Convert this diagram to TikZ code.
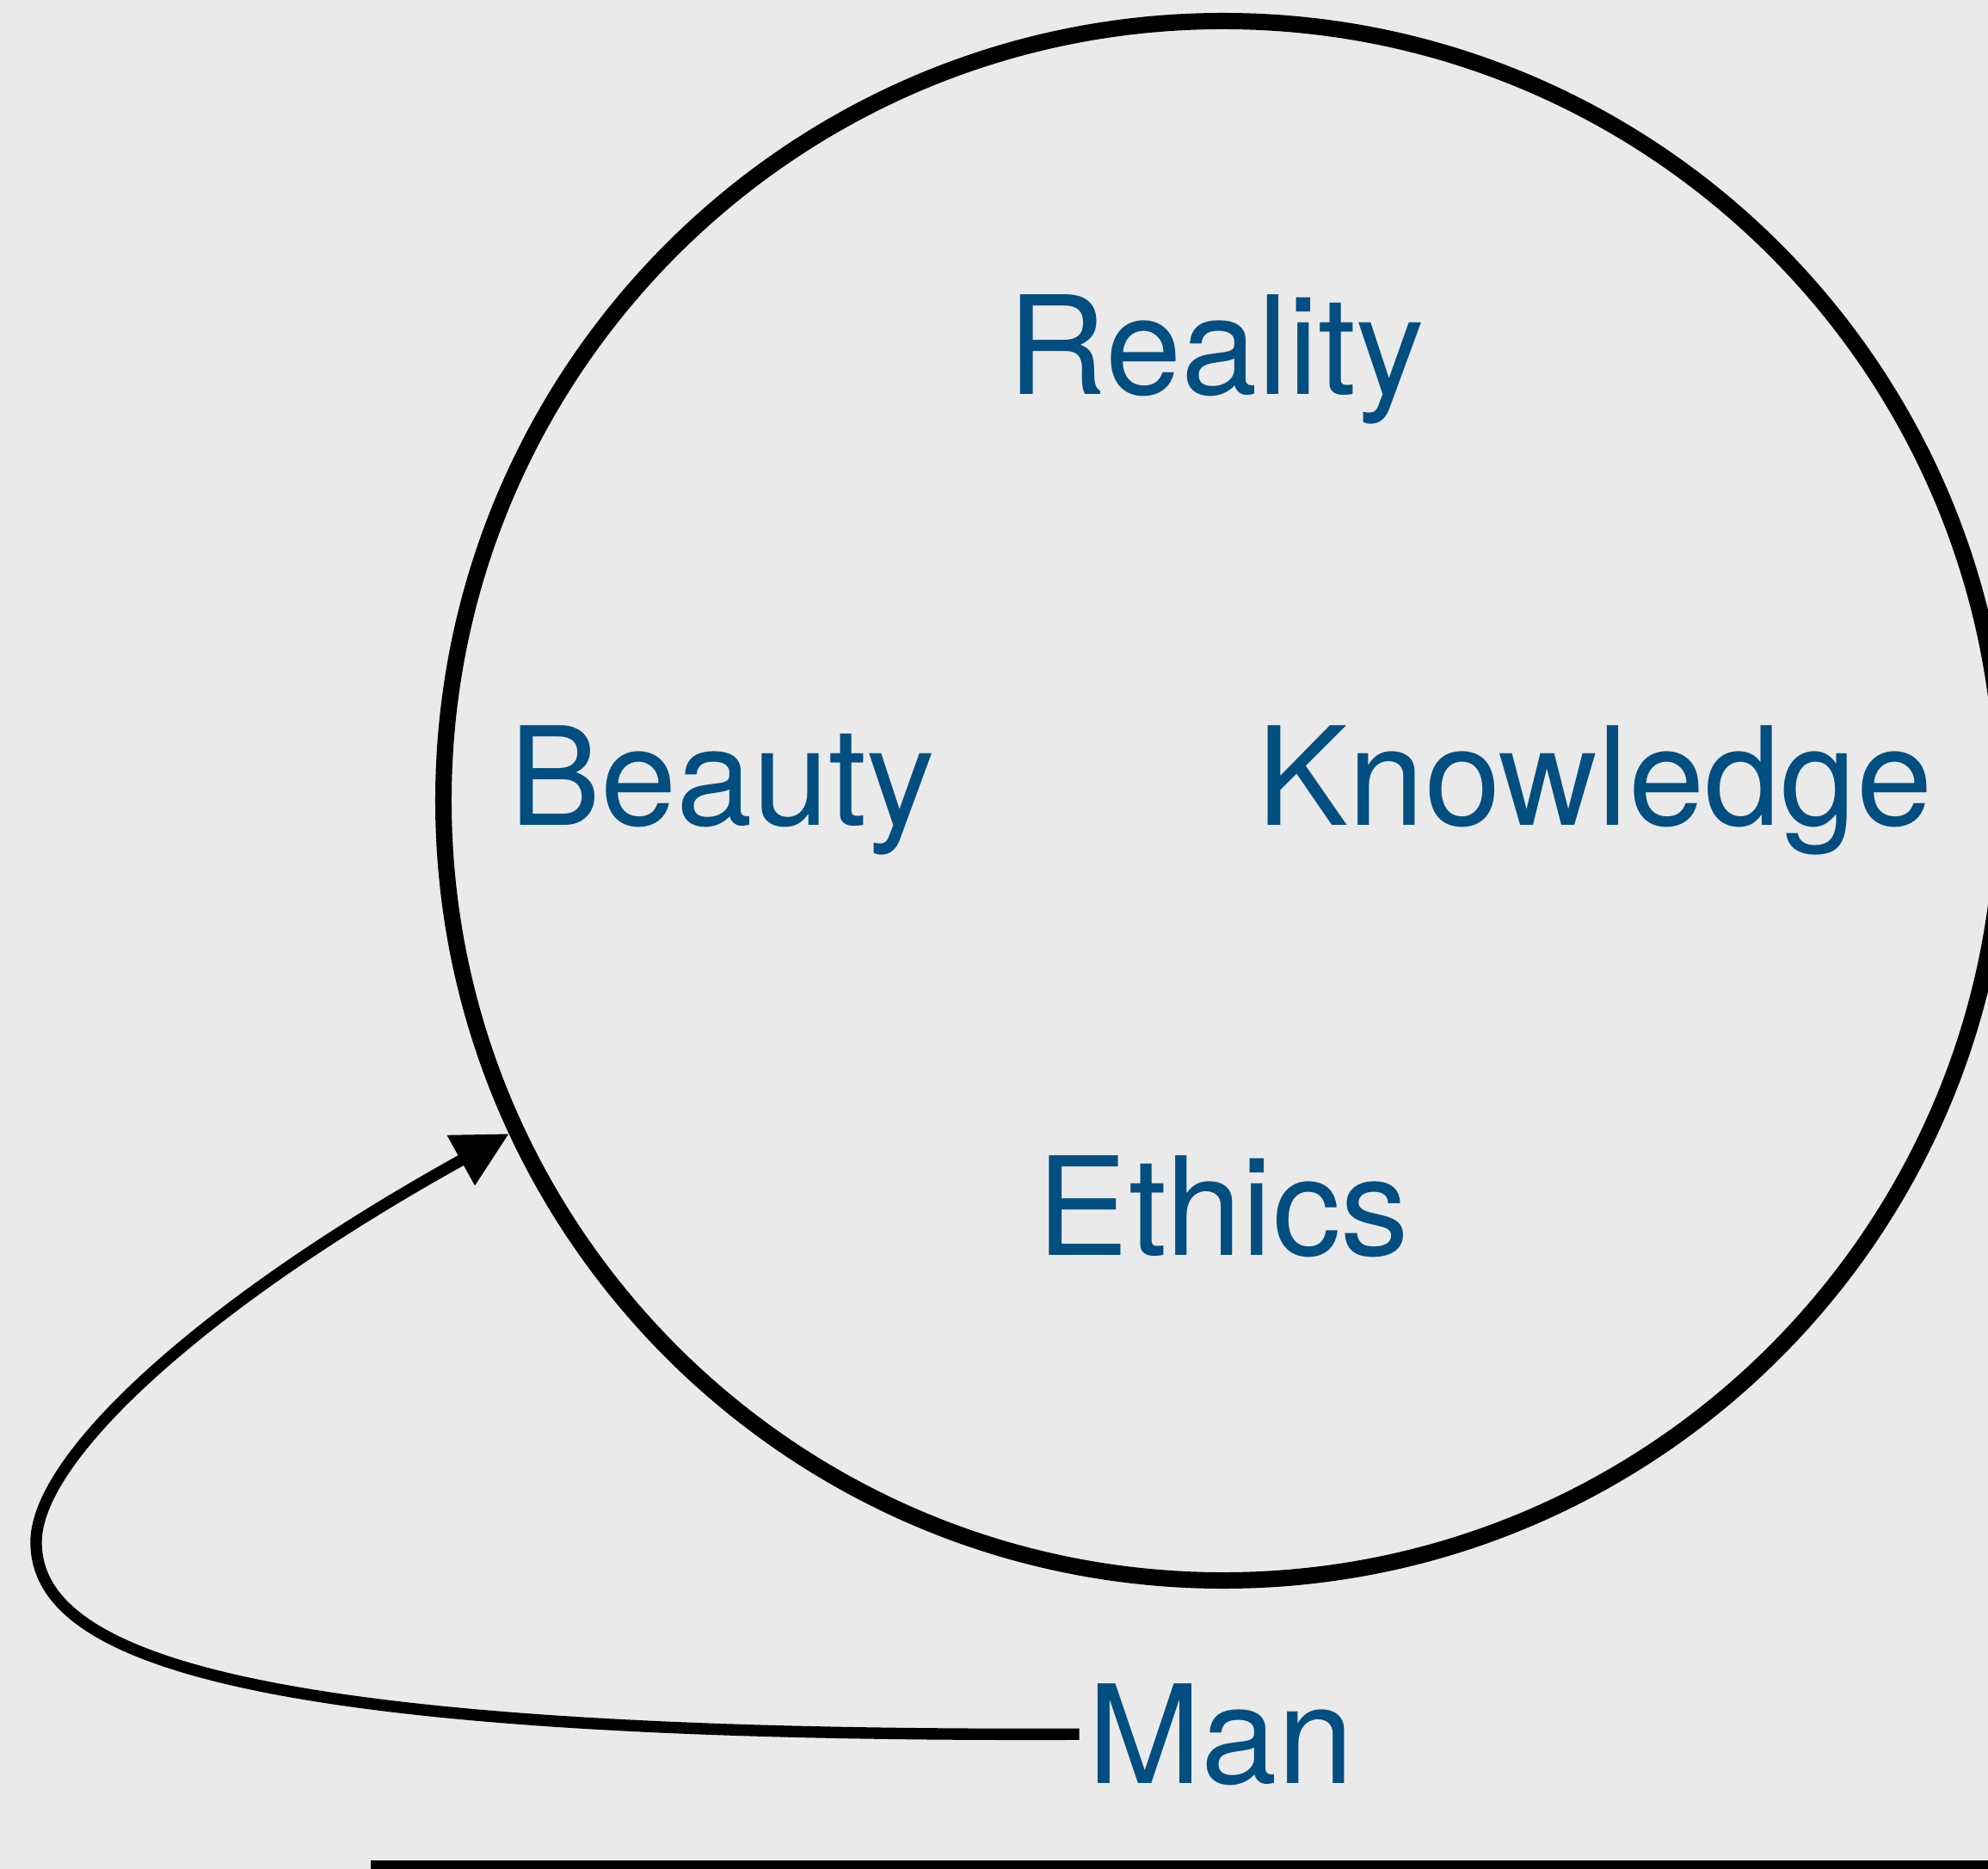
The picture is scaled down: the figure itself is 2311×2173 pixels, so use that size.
\documentclass[tikz,border=0pt]{standalone}
\usepackage{fontspec}
\setmainfont{TeX Gyre Heros}
\usetikzlibrary{arrows.meta}
\definecolor{bgc}{RGB}{234,234,234}
\definecolor{txtblue}{RGB}{2,78,128}
\tikzset{
  label text/.style={text=txtblue, inner sep=0pt, anchor=base,
    font=\fontsize{45.2pt}{54pt}\selectfont},
  ring/.style={circle, draw=black, line width=5.4pt, minimum size=18.12cm, inner sep=0pt},
  loop arrow/.style={draw=black, line width=3.8pt,
    -{Triangle[length=0.64cm, width=0.63cm]}},
}
\begin{document}
\begin{tikzpicture}[x=0.01cm, y=-0.01cm]
  \useasboundingbox (0,0) rectangle (2311,2173);
  \fill[bgc] (0,0) rectangle (2311,2173);
  \clip (0,0) rectangle (2311,2173);
  \node[ring] (world) at (1422,931) {};
  \node[label text] (reality) at (1414,459) {Reality};
  \node[label text] (beauty) at (840,959) {Beauty};
  \node[label text] (knowledge) at (1854,959) {Knowledge};
  \node[label text] (ethics) at (1422,1459) {Ethics};
  \node[label text, inner sep=0.09cm] (man) at (1419,2073) {Man};
  \draw[loop arrow] (man.west) .. controls (300,2020) and (42,1930) .. (42,1793)
     .. controls (42,1693) and (240,1513) .. (world.205.3);
  \fill[black] (431,2163) rectangle (2320,2180);
\end{tikzpicture}
\end{document}
